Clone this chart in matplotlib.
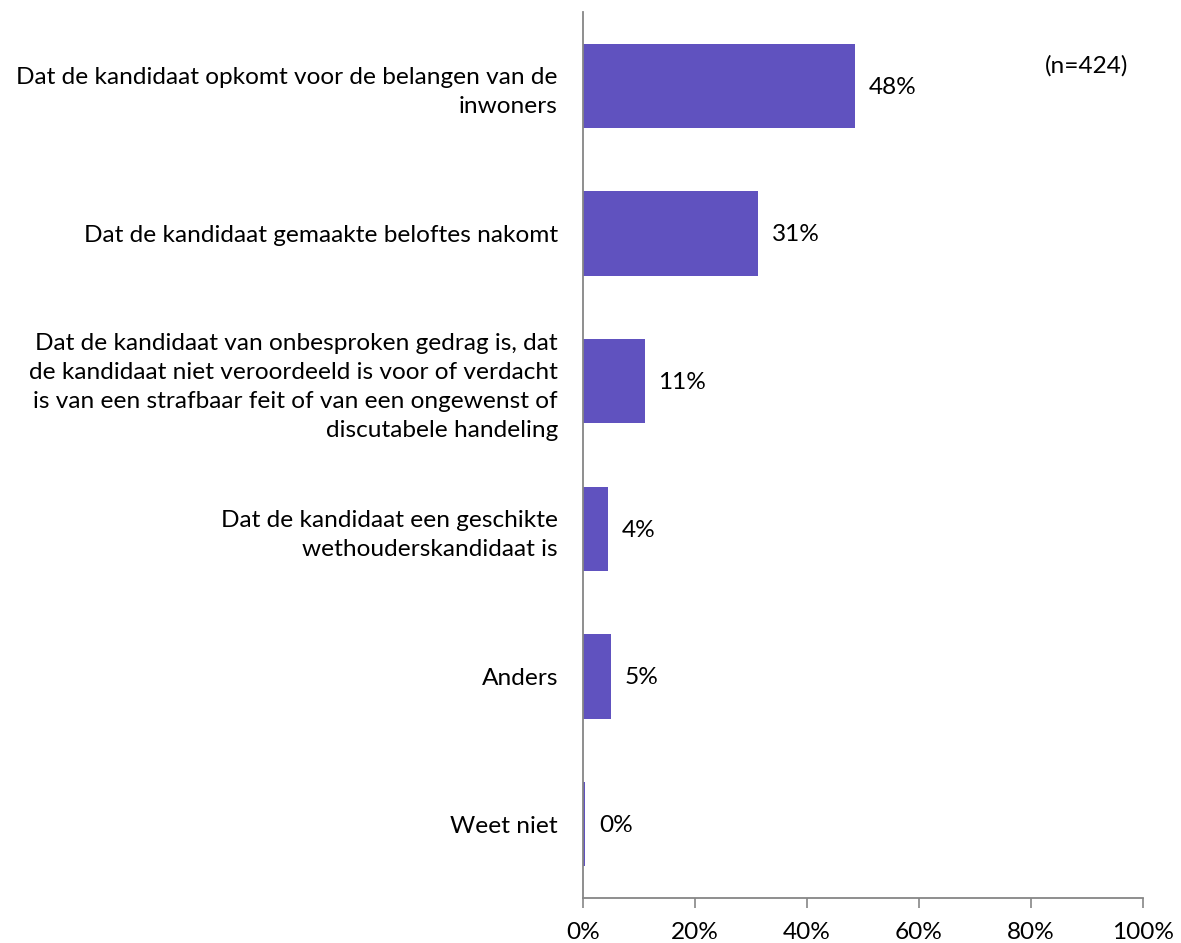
import matplotlib
matplotlib.use("Agg")
import matplotlib.pyplot as plt
from matplotlib.ticker import FuncFormatter

categories = [
    "Dat de kandidaat opkomt voor de belangen van de\ninwoners",
    "Dat de kandidaat gemaakte beloftes nakomt",
    "Dat de kandidaat van onbesproken gedrag is, dat\nde kandidaat niet veroordeeld is voor of verdacht\nis van een strafbaar feit of van een ongewenst of\ndiscutabele handeling",
    "Dat de kandidaat een geschikte\nwethouderskandidaat is",
    "Anders",
    "Weet niet",
]
values = [48.5, 31.2, 11.0, 4.4, 5.0, 0.4]
value_labels = ["48%", "31%", "11%", "4%", "5%", "0%"]
xticks = [0, 20, 40, 60, 80, 100]
note = "(n=424)"

plt.rcParams['font.family'] = ['Lato', 'DejaVu Sans']
FS = 17.6

fig = plt.figure(figsize=(11.81, 9.43), dpi=100)
ax = fig.add_axes([583/1181, 1-898/943, (1143-583)/1181, (898-12)/943])

ypos = list(range(len(categories)))
ax.barh(ypos, values, height=0.57, color="#6052BF")
ax.set_ylim(len(categories)-0.5, -0.5)
ax.set_xlim(0, 100)

for y, v, t in zip(ypos, values, value_labels):
    ax.annotate(t, (v, y), xytext=(10, -1), textcoords="offset points",
                va="center", ha="left", fontsize=FS, color="black")

ax.set_yticks(ypos)
ax.set_yticklabels(categories, fontsize=FS, linespacing=1.47)
ax.tick_params(axis='y', length=0, pad=18)
ax.set_xticks(xticks)
ax.xaxis.set_major_formatter(FuncFormatter(lambda x, p: f"{int(x)}%"))
ax.tick_params(axis='x', length=7, width=1.2, color="#868686", labelsize=FS, pad=10)

for s in ["top", "right"]:
    ax.spines[s].set_visible(False)
for s in ["left", "bottom"]:
    ax.spines[s].set_color("#868686")
    ax.spines[s].set_linewidth(1.3)

fig.text(1045/1181, 1-66/943, note, fontsize=FS, ha="left", va="center")

fig.savefig("out.png", dpi=100)
